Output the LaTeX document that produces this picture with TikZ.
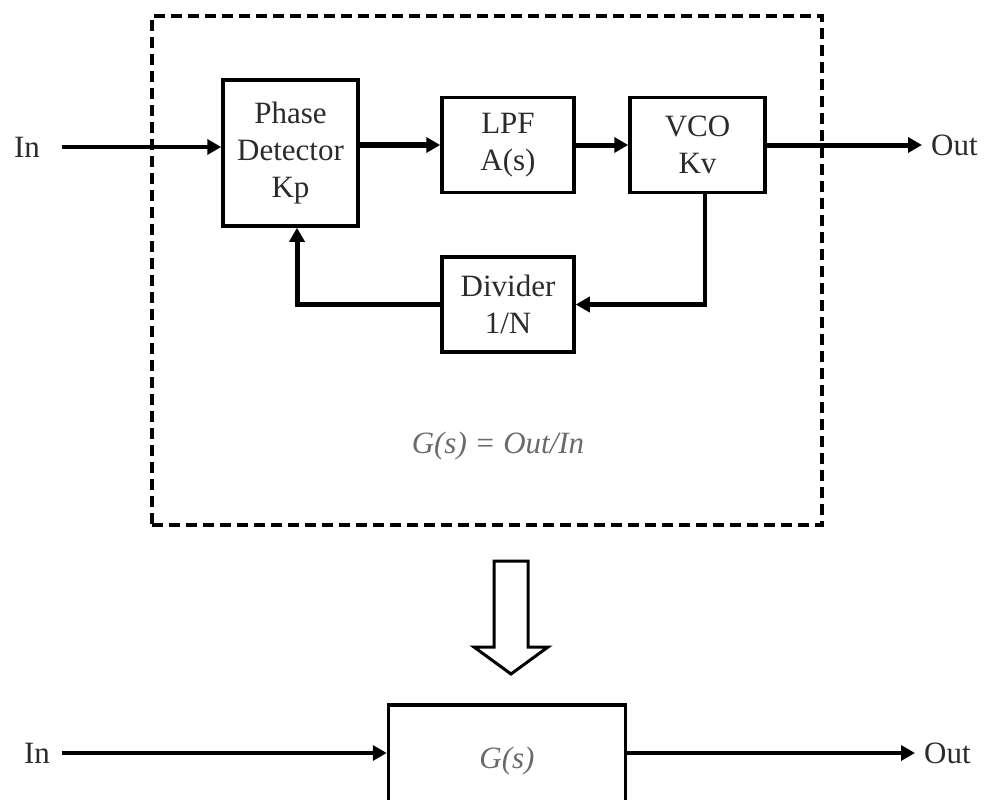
\documentclass[tikz,border=0pt]{standalone}
\usepackage{fontspec}
\setmainfont{Liberation Serif}
\usetikzlibrary{arrows.meta,calc}
\definecolor{txt}{HTML}{2B2B2B}
\definecolor{gtxt}{HTML}{6A6A6A}
\newcommand{\bigf}{\fontsize{31}{37}\selectfont}
\begin{document}
\begin{tikzpicture}[x=1pt,y=-1pt,
  blk/.style={draw,line width=3.5pt,inner sep=0pt,align=center,font=\bigf,text=txt},
  lbl/.style={inner sep=0pt,font=\bigf,text=txt},
  sig/.style={line width=4.5pt,-{Triangle[length=14pt,width=15pt]}},
  dashbox/.style={draw,line width=3.5pt,dash pattern=on 11pt off 6pt,inner sep=0pt}]
\useasboundingbox (0,0) rectangle (989,800);
\clip (0,0) rectangle (989,800);

% dashed frame
\node[dashbox,minimum width=670pt,minimum height=509pt] (frame) at (487,270.5) {};

% blocks
\node[blk,minimum width=135pt,minimum height=146pt] (PD) at (290.5,153) {Phase\\Detector\\Kp};
\node[blk,minimum width=132pt,minimum height=95pt] (LPF) at (508,145) {LPF\\A(s)};
\node[blk,minimum width=135pt,minimum height=95pt] (VCO) at (697.5,145) {VCO\\Kv};
\node[blk,minimum width=132pt,minimum height=95pt] (DIV) at (508,304.5) {Divider\\1/N};

% labels
\node[lbl] (inT) at (27,147) {In};
\node[lbl,anchor=west,inner xsep=9pt] (outT) at (922,145) {Out};
\node[font=\bigf\itshape,text=gtxt] (eq) at (498,446) {G(s) = Out/In};

% top connectors
\coordinate (inS) at (62,147);
\draw[sig,line width=3.5pt] (inS) -- (inS -| PD.west);
\draw[sig,line width=5.5pt] (PD.east |- LPF.west) -- (LPF.west);
\draw[sig,line width=5pt] (LPF.east) -- (VCO.west);
\draw[sig,line width=5pt] (VCO.east) -- (outT.west);
\draw[sig] ($(VCO.south)+(7.5,0)$) |- (DIV.east);
\draw[sig,line width=5pt] (DIV.west) -| ($(PD.south)+(6.5,0)$);

% hollow down arrow
\draw[line width=3pt,fill=white] (494,561) -- (528,561) -- (528,647) -- (548,647)
  -- (511,674) -- (474,647) -- (494,647) -- cycle;

% bottom system
\node[blk,minimum width=237pt,minimum height=112pt] (G) at (507,761) {\itshape\color{gtxt}G(s)};
\node[lbl] (inB) at (37,753) {In};
\node[lbl,anchor=west,inner xsep=9pt] (outB) at (915,753) {Out};
\coordinate (inBS) at (62,753);
\draw[sig,line width=4pt] (inBS) -- (inBS -| G.west);
\draw[sig,line width=4pt] (G.east |- outB) -- (outB.west);
\end{tikzpicture}
\end{document}
